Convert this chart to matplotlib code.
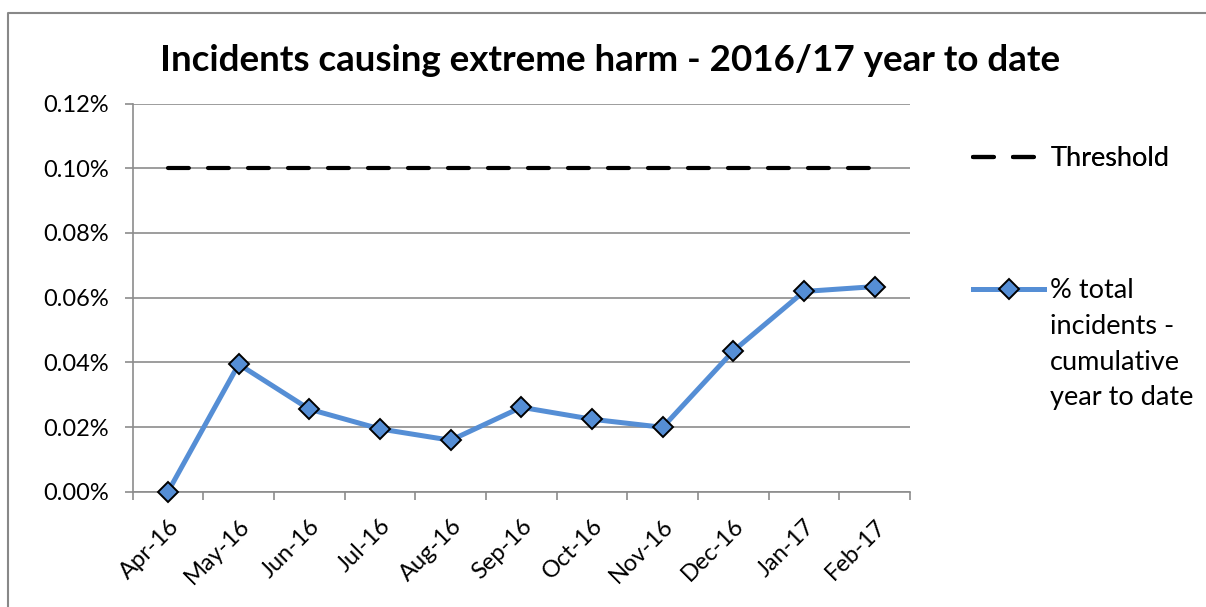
import matplotlib
matplotlib.use("Agg")
import matplotlib.pyplot as plt
from matplotlib.lines import Line2D
from matplotlib.ticker import FixedLocator, FuncFormatter

months = ["Apr-16", "May-16", "Jun-16", "Jul-16", "Aug-16", "Sep-16",
          "Oct-16", "Nov-16", "Dec-16", "Jan-17", "Feb-17"]
# % total incidents, cumulative year to date (values in percent)
pct_total = [0.0, 0.0394, 0.0255, 0.0194, 0.0159, 0.0261,
             0.0224, 0.0199, 0.0435, 0.0619, 0.0634]
threshold = [0.10] * len(months)

blue = "#558ED5"
grid_col = "#8C8C8C"
plt.rcParams["font.family"] = ["Lato", "DejaVu Sans"]

fig = plt.figure(figsize=(12.06, 6.07), dpi=100)
W, H = 1206, 607
ax = fig.add_axes([132.7 / W, 1 - 491.7 / H, (910 - 132.7) / W, (491.7 - 103.5) / H])

x = list(range(len(months)))
ax.plot(x, threshold, color="black", lw=3, dashes=(5, 4.6),
        dash_capstyle="round", label="Threshold")
ax.plot(x, pct_total, color=blue, lw=3.6, marker="D", markersize=10.5,
        markerfacecolor=blue, markeredgecolor="black", markeredgewidth=1.4,
        label="% total", clip_on=False, zorder=5)

ax.set_xlim(-0.5, len(months) - 0.5)
ax.set_ylim(0, 0.12)
ax.set_yticks([0, 0.02, 0.04, 0.06, 0.08, 0.10, 0.12])
ax.yaxis.set_major_formatter(FuncFormatter(lambda v, p: "%.2f%%" % v))
ax.set_xticks(x)
ax.set_xticklabels(months, rotation=45, ha="right", rotation_mode="anchor")
ax.xaxis.set_minor_locator(FixedLocator([i - 0.5 for i in range(len(months) + 1)]))
ax.tick_params(axis="x", which="major", length=0, pad=17, labelsize=17)
ax.tick_params(axis="x", which="minor", length=6, width=1.2, color=grid_col)
ax.tick_params(axis="y", length=6, width=1.2, color=grid_col, labelsize=17, pad=11)

ax.grid(axis="y", color=grid_col, lw=1.2)
ax.set_axisbelow(True)
for s in ["top", "right"]:
    ax.spines[s].set_visible(False)
for s in ["left", "bottom"]:
    ax.spines[s].set_color(grid_col)
    ax.spines[s].set_linewidth(1.2)

fig.text(610 / W, 1 - 71 / H, "Incidents causing extreme harm - 2016/17 year to date",
         ha="center", va="baseline", fontsize=26.5, fontweight="bold")

# legend (right side)
leg1 = fig.legend(handles=[ax.lines[0]], loc="center left",
                  bbox_to_anchor=(973 / W, 1 - 159 / H), frameon=False,
                  borderpad=0, borderaxespad=0,
                  fontsize=19.5, handlelength=2.3, handletextpad=0.55)
leg2 = fig.legend(handles=[ax.lines[1]], loc="center left",
                  bbox_to_anchor=(973 / W, 1 - 291 / H), frameon=False,
                  borderpad=0, borderaxespad=0,
                  fontsize=19.5, handlelength=2.63, handletextpad=0.22)
fig.add_artist(leg1)
for line, yb in zip(["incidents -", "cumulative", "year to date"], [334, 370, 405]):
    fig.text(1050 / W, 1 - yb / H, line, ha="left", va="baseline", fontsize=19.5)

# outer chart border (top and left visible)
fig.add_artist(Line2D([8 / W, 8 / W, 1.0], [0.0, 1 - 13 / H, 1 - 13 / H],
                      transform=fig.transFigure, color="#888888", lw=1.5))

plt.savefig("out.png", dpi=100)
